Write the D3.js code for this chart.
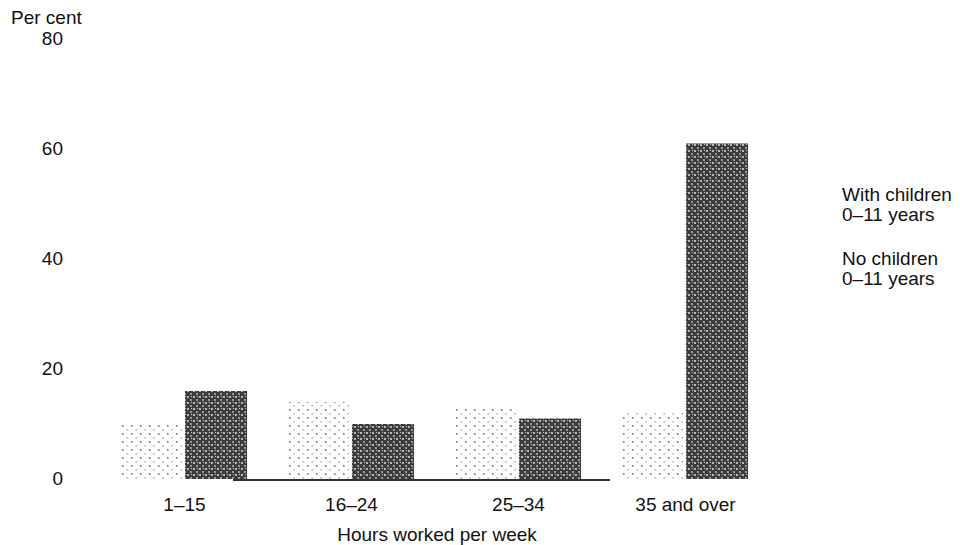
<!DOCTYPE html>
<html>
<head>
<meta charset="utf-8">
<script src="https://cdn.jsdelivr.net/npm/d3@7"></script>
<style>
  html, body { margin: 0; padding: 0; background: #fff; }
  svg { display: block; }
  text { font-family: "Liberation Sans", Arial, Helvetica, sans-serif; fill: #111; }
</style>
</head>
<body>
<svg id="chart" width="960" height="545"></svg>
<script>
// ---- data ----
const categories = ["1\u201315", "16\u201324", "25\u201334", "35 and over"];
const seriesNames = ["With children 0\u201311 years", "No children 0\u201311 years"];
const withChildren = [10, 14, 13, 12];
const noChildren = [16, 10, 11, 61];
const yTicks = [0, 20, 40, 60, 80];
const yLabel = "Per cent";
const xLabel = "Hours worked per week";
const legendLines = [["With children", "0\u201311 years"], ["No children", "0\u201311 years"]];

const seriesValues = [withChildren, noChildren];
const rows = categories.map((c, i) => ({
  category: c,
  values: seriesNames.map((s, k) => ({ series: s, value: seriesValues[k][i] }))
}));

const FS = 19;
const svg = d3.select("#chart");

// ---- patterns ----
const defs = svg.append("defs");
const pLight = defs.append("pattern").attr("id", "patLight")
  .attr("patternUnits", "userSpaceOnUse").attr("width", 9).attr("height", 8);
pLight.append("rect").attr("x", 1).attr("y", 1).attr("width", 1.6).attr("height", 2).attr("fill", "#8a8a8a");
pLight.append("rect").attr("x", 5.5).attr("y", 5).attr("width", 1.4).attr("height", 1.6).attr("fill", "#a8a8a8");

const pDark = defs.append("pattern").attr("id", "patDark")
  .attr("patternUnits", "userSpaceOnUse").attr("width", 6).attr("height", 6);
pDark.append("rect").attr("width", 6).attr("height", 6).attr("fill", "#3c3c3c");
pDark.append("rect").attr("x", 0).attr("y", 0).attr("width", 2).attr("height", 2).attr("fill", "#b8b8b8");
pDark.append("rect").attr("x", 3).attr("y", 3).attr("width", 2).attr("height", 2).attr("fill", "#9a9a9a");
pDark.append("rect").attr("x", 4).attr("y", 0).attr("width", 1).attr("height", 1).attr("fill", "#d0d0d0");

const fills = { [seriesNames[0]]: "url(#patLight)", [seriesNames[1]]: "url(#patDark)" };

// ---- scales ----
const x0 = d3.scaleBand().domain(categories).range([100.5, 768.5])
  .paddingInner(0.245).paddingOuter(0.1225);
const x1 = d3.scaleBand().domain(seriesNames).range([0, x0.bandwidth()]).paddingInner(0.03);
const y = d3.scaleLinear().domain([0, 80]).range([479, 39]);

// ---- bars ----
const g = svg.append("g");
g.selectAll("g.cat").data(rows).join("g").attr("class", "cat")
  .attr("transform", d => `translate(${x0(d.category)},0)`)
  .selectAll("rect").data(d => d.values).join("rect")
  .attr("x", d => x1(d.series))
  .attr("width", x1.bandwidth())
  .attr("y", d => y(d.value))
  .attr("height", d => y(0) - y(d.value))
  .attr("fill", d => fills[d.series]);

// ---- baseline ----
svg.append("line").attr("x1", 233).attr("x2", 610)
  .attr("y1", y(0) + 1).attr("y2", y(0) + 1)
  .attr("stroke", "#333").attr("stroke-width", 2);

// ---- y axis (labels only) ----
const yAxis = d3.axisLeft(y).tickValues(yTicks).tickSize(0).tickPadding(0).tickFormat(d3.format("d"));
const ya = svg.append("g").attr("transform", "translate(63,-1)").call(yAxis);
ya.select(".domain").remove();
ya.selectAll("text").attr("font-size", FS).attr("font-family", "Liberation Sans, Arial, sans-serif").attr("fill", "#111");

svg.append("text").attr("x", 11).attr("y", 24).attr("font-size", FS).text(yLabel);

// ---- x axis (labels only) ----
const xAxis = d3.axisBottom(d3.scalePoint().domain(categories)
  .range([x0(categories[0]) + x0.bandwidth() / 2, x0(categories[3]) + x0.bandwidth() / 2]))
  .tickSize(0).tickPadding(0);
const xa = svg.append("g").attr("transform", "translate(0,497)").call(xAxis);
xa.select(".domain").remove();
xa.selectAll("text").attr("font-size", FS).attr("font-family", "Liberation Sans, Arial, sans-serif").attr("fill", "#111");

svg.append("text").attr("x", 437).attr("y", 541).attr("text-anchor", "middle")
  .attr("font-size", FS).text(xLabel);

// ---- legend (text only) ----
const lg = svg.append("g").attr("transform", "translate(842,0)");
legendLines.forEach((lines, k) => {
  lines.forEach((t, j) => {
    lg.append("text").attr("x", 0).attr("y", 201 + k * 64 + j * 20)
      .attr("font-size", FS).text(t);
  });
});
</script>
</body>
</html>
